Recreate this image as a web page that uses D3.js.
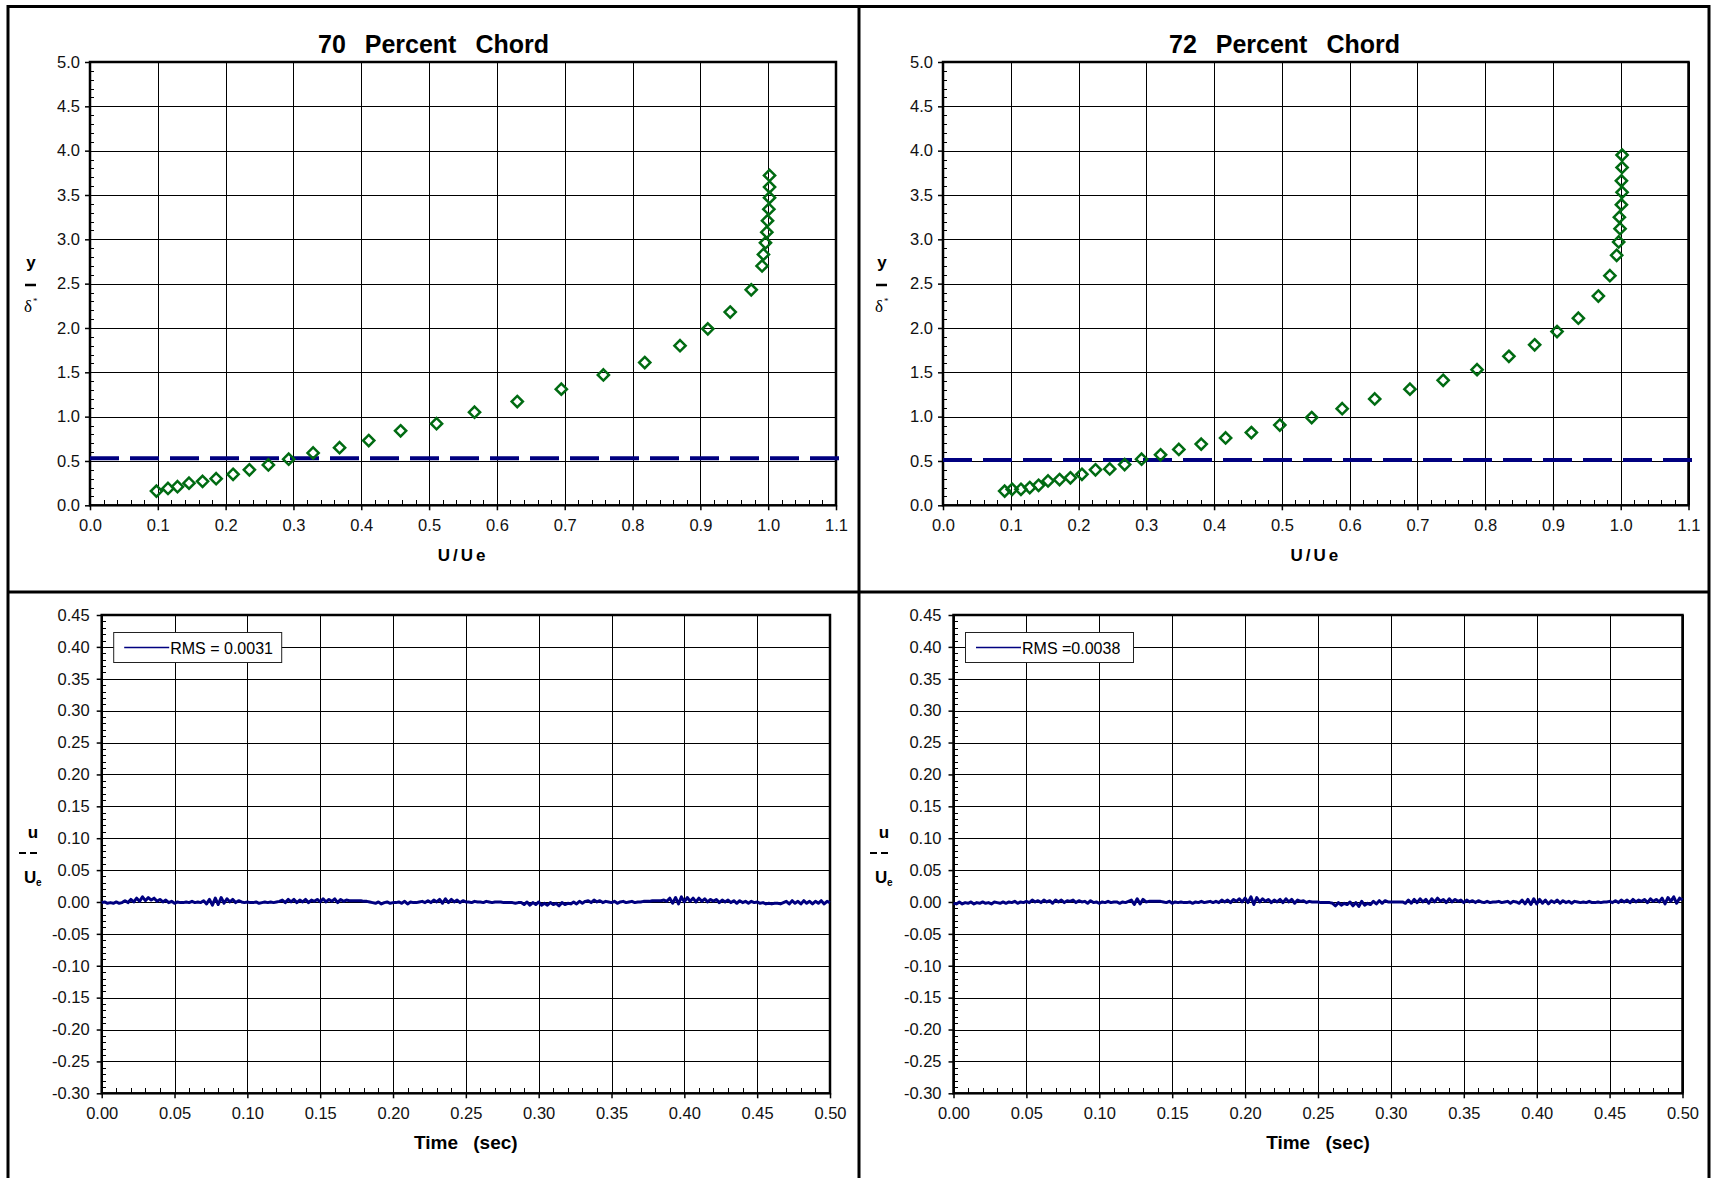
<!DOCTYPE html>
<html>
<head>
<meta charset="utf-8">
<script src="https://d3js.org/d3.v7.min.js"></script>
<style>
  body { margin: 0; background: #fff; font-family: "Liberation Sans", Arial, Helvetica, sans-serif; }
  .grid line { stroke: #000; stroke-width: 1; shape-rendering: crispEdges; }
  .minor line { stroke: #000; stroke-width: 1; shape-rendering: crispEdges; }
  .axis text { font-size: 16.5px; fill: #111; font-family: "Liberation Sans", Arial, sans-serif; }
  .axis line { stroke: #000; stroke-width: 1.5; }
</style>
</head>
<body>
<svg id="chart" width="1711" height="1178"></svg>
<script>
// ---- data ----

// boundary layer profile, 70 percent chord
const uUe70 = [0.098, 0.115, 0.129, 0.146, 0.166, 0.186, 0.211, 0.235, 0.263, 0.293,
  0.329, 0.368, 0.411, 0.458, 0.511, 0.567, 0.630, 0.695, 0.757, 0.818,
  0.870, 0.911, 0.944, 0.975, 0.991, 0.993, 0.996, 0.998, 0.999, 1.001,
  1.002, 1.002, 1.002];
const yDelta70 = [0.16, 0.19, 0.21, 0.25, 0.27, 0.30, 0.35, 0.40, 0.455, 0.52,
  0.59, 0.65, 0.73, 0.84, 0.92, 1.05, 1.17, 1.31, 1.47, 1.61,
  1.80, 1.99, 2.18, 2.43, 2.70, 2.83, 2.96, 3.08, 3.21, 3.34,
  3.47, 3.59, 3.72];

// boundary layer profile, 72 percent chord
const uUe72 = [0.091, 0.102, 0.115, 0.128, 0.141, 0.155, 0.172, 0.188, 0.205, 0.225,
  0.246, 0.268, 0.293, 0.321, 0.348, 0.381, 0.417, 0.455, 0.497, 0.544,
  0.589, 0.637, 0.689, 0.738, 0.788, 0.835, 0.873, 0.906, 0.9375, 0.967,
  0.984, 0.994, 0.997, 0.999, 0.998, 1.001, 1.002, 1.001, 1.002, 1.002];
const yDelta72 = [0.16, 0.18, 0.18, 0.20, 0.226, 0.275, 0.29, 0.31, 0.35, 0.40,
  0.41, 0.46, 0.52, 0.57, 0.63, 0.69, 0.76, 0.82, 0.905, 0.99,
  1.09, 1.20, 1.31, 1.41, 1.53, 1.68, 1.81, 1.96, 2.11, 2.36,
  2.59, 2.82, 2.97, 3.12, 3.25, 3.39, 3.53, 3.66, 3.81, 3.95];

// dashed reference lines (y level, U/Ue extent)
const refLevel70 = 0.53;
const refLevel72 = 0.51;
const refExtent = [0, 1.11];

// velocity fluctuation u/Ue, sampled every dt seconds
const dt = 0.002;
const fluct70 = [
  -0.001, 0.000, -0.002, -0.001, -0.002, 0.000, -0.002, -0.001,
  0.002, -0.001, 0.004, 0.000, 0.006, 0.001, 0.008, 0.002, 0.007, 0.003, 0.006, 0.001, 0.004, 0.000, 0.003,
  -0.001, 0.001, -0.002, 0.000, -0.001, -0.001, 0.000, -0.001, 0.001, -0.001, 0.000, -0.001,
  0.002, -0.003, 0.004, -0.005, 0.006, -0.004, 0.007, -0.002, 0.005, 0.000, 0.004, -0.001, 0.002,
  0.000, -0.001, 0.000, -0.001, -0.001, 0.000, -0.002, -0.001, 0.000, -0.001, 0.000, -0.001, 0.000,
  0.001, 0.003, -0.001, 0.004, 0.000, 0.004, -0.001, 0.003, 0.000, 0.004, -0.001, 0.003, 0.001, 0.004, 0.000, 0.005, 0.000, 0.004, 0.001, 0.005, -0.001, 0.004, 0.001, 0.003, 0.002,
  0.002, 0.002, 0.002, 0.002, 0.001, 0.001, 0.000,
  -0.001, -0.002, 0.000, -0.003, -0.001, 0.000, -0.002, -0.001, -0.001, 0.000, -0.002, 0.001, -0.003, 0.000, -0.001, -0.001, 0.000,
  0.001, -0.001, 0.002, -0.001, 0.003, 0.000, 0.004, -0.002, 0.005, -0.001, 0.004, 0.000, 0.003, -0.001, 0.002, 0.000,
  0.000, -0.001, 0.001, 0.000, 0.000, -0.001, 0.001, 0.000, -0.001, 0.000, 0.000, 0.000, -0.001, -0.001, -0.001, -0.001, -0.002, -0.001,
  -0.001, -0.004, 0.000, -0.005, -0.001, -0.004, 0.000, -0.005, -0.002, -0.005, -0.001, -0.004, -0.002, -0.006, -0.001, -0.004, -0.002, -0.003, 0.000, -0.003, 0.001, -0.002, 0.001,
  0.002, -0.001, 0.003, 0.000, 0.002, -0.001, 0.001, 0.000, -0.001, 0.001, -0.002, 0.000, 0.001, -0.001, 0.000, 0.001, -0.001, 0.000, 0.000, 0.001, 0.001, 0.001, 0.002, 0.002, 0.002, 0.002, 0.003,
  0.001, 0.006, -0.002, 0.007, -0.003, 0.008, 0.000, 0.007, 0.001, 0.006, 0.000, 0.006, 0.001, 0.005, 0.000, 0.004, 0.001, 0.004, -0.001, 0.003, 0.000, 0.003, -0.001,
  0.002, -0.002, 0.002, -0.001, 0.001, -0.002, 0.001, -0.001, 0.000, -0.002, -0.001, -0.003,
  -0.002, -0.003, -0.002, -0.002, -0.003, -0.001,
  0.001, -0.003, 0.002, -0.002, 0.001, -0.003, 0.002, -0.002, 0.001, -0.003, 0.001, -0.002, 0.002, -0.003, 0.001, -0.001
];
const fluct72 = [
  -0.002, -0.003, 0.000, -0.003, -0.001, -0.002, 0.000, -0.003, -0.001, -0.002, 0.000, -0.002, -0.001, -0.003, 0.000, -0.001, -0.002, 0.000, -0.002, 0.000, -0.001, 0.001, -0.002, 0.000, -0.001,
  0.001, -0.001, 0.003, 0.000, 0.002, -0.001, 0.003, 0.000, 0.002, -0.002, 0.003, 0.000, 0.003, -0.001, 0.002, 0.001, 0.003, -0.001, 0.002, 0.000, 0.001, -0.002, 0.002, -0.001, 0.000, -0.002,
  0.000, -0.001, 0.001, -0.001, 0.000, 0.000, -0.002, 0.000, -0.001, 0.001,
  0.003, -0.004, 0.005, -0.003, 0.004, 0.000,
  0.001, 0.001, 0.001, 0.001, 0.001, 0.000,
  -0.001, 0.001, -0.002, 0.000, -0.001, 0.000, -0.001, -0.001, 0.000, -0.002, 0.000, -0.001, 0.001, -0.001, 0.000, 0.001, -0.001,
  0.001, -0.001, 0.003, 0.000, 0.003, -0.001, 0.004, 0.001, 0.005, 0.000, 0.006, -0.001, 0.008, -0.004, 0.007, 0.000, 0.005, 0.001, 0.004, -0.001, 0.003, 0.000,
  0.004, -0.001, 0.005, 0.000, 0.004, -0.002, 0.003, 0.001, 0.002, -0.001, 0.001, 0.000, 0.000,
  0.000, -0.001, -0.001, -0.001, -0.001,
  -0.002, -0.006, -0.001, -0.005, -0.002, -0.004, 0.000, -0.006, -0.001, -0.007, 0.001, -0.005, -0.002, -0.004, 0.001, -0.003, 0.002, -0.002, 0.002, 0.000,
  0.000, 0.000, 0.000, 0.000, 0.000,
  -0.002, 0.003, -0.002, 0.004, -0.001, 0.005, 0.000, 0.004, -0.002, 0.005, 0.000, 0.006, 0.001, 0.004, -0.001, 0.005, 0.000, 0.004, 0.001, 0.003, -0.001, 0.003, 0.000, 0.002, -0.001, 0.002,
  0.000, -0.001, 0.001, -0.001, 0.000, 0.000, 0.001, -0.001, 0.000, 0.001, -0.002, 0.001, 0.000,
  -0.002, 0.003, -0.003, 0.004, -0.004, 0.005, -0.003, 0.004, -0.002, 0.003, -0.003, 0.002, -0.001, 0.003, -0.002, 0.002, -0.001, 0.001, -0.002, 0.001, 0.000,
  -0.001, 0.000, -0.001, 0.001, -0.001, -0.001, 0.000, -0.001, 0.000, 0.000,
  0.001, -0.001, 0.002, -0.001, 0.003, 0.000, 0.003, -0.001, 0.004, 0.000, 0.003, 0.001, 0.004, -0.001, 0.005, 0.001, 0.004, 0.000, 0.006, -0.003, 0.007, 0.001, 0.008, -0.002, 0.006, 0.003
];

// ticks
const profileXTicks = [0.0, 0.1, 0.2, 0.3, 0.4, 0.5, 0.6, 0.7, 0.8, 0.9, 1.0, 1.1];
const profileYTicks = [0.0, 0.5, 1.0, 1.5, 2.0, 2.5, 3.0, 3.5, 4.0, 4.5, 5.0];
const signalXTicks = [0.00, 0.05, 0.10, 0.15, 0.20, 0.25, 0.30, 0.35, 0.40, 0.45, 0.50];
const signalYTicks = [-0.30, -0.25, -0.20, -0.15, -0.10, -0.05, 0.00, 0.05, 0.10, 0.15, 0.20, 0.25, 0.30, 0.35, 0.40, 0.45];

const titles = ["70 Percent Chord", "72 Percent Chord"];
const rmsLabels = ["RMS = 0.0031", "RMS =0.0038"];

// ---- drawing ----
const svg = d3.select("#chart");
const NAVY = "#000080", GREEN = "#006b12";

// outer table frame
const frame = svg.append("g").attr("stroke", "#000").attr("stroke-width", 3);
frame.append("line").attr("x1", 8).attr("x2", 8).attr("y1", 5).attr("y2", 1178);
frame.append("line").attr("x1", 859).attr("x2", 859).attr("y1", 5).attr("y2", 1178);
frame.append("line").attr("x1", 1709).attr("x2", 1709).attr("y1", 5).attr("y2", 1178);
frame.append("line").attr("x1", 7).attr("x2", 1710).attr("y1", 6.5).attr("y2", 6.5);
frame.append("line").attr("x1", 7).attr("x2", 1710).attr("y1", 592).attr("y2", 592);

const px = v => Math.round(v) + 0.5;

function gridAndFrame(g, x, y, xt, yt, xMinor, yMinor) {
  const [x0, x1] = x.range(), [y0, y1] = y.range();
  const grid = g.append("g").attr("class", "grid");
  grid.selectAll(".v").data(xt).join("line").attr("class", "v")
    .attr("x1", d => px(x(d))).attr("x2", d => px(x(d))).attr("y1", y1).attr("y2", y0);
  grid.selectAll(".h").data(yt).join("line").attr("class", "h")
    .attr("x1", x0).attr("x2", x1).attr("y1", d => px(y(d))).attr("y2", d => px(y(d)));

  const minor = g.append("g").attr("class", "minor");
  minor.selectAll(".mx").data(xMinor).join("line").attr("class", "mx")
    .attr("x1", d => px(x(d))).attr("x2", d => px(x(d))).attr("y1", y0).attr("y2", y0 - 5);
  minor.selectAll(".my").data(yMinor).join("line").attr("class", "my")
    .attr("x1", x0).attr("x2", x0 + 4).attr("y1", d => px(y(d))).attr("y2", d => px(y(d)));

  g.append("rect").attr("x", x0).attr("y", y1).attr("width", x1 - x0).attr("height", y0 - y1)
    .attr("fill", "none").attr("stroke", "#000").attr("stroke-width", 2.5);
}

function axes(g, x, y, xt, yt, fx, fy, xPad, yPad) {
  const [y0] = y.range(), [x0] = x.range();
  g.append("g").attr("class", "axis").attr("transform", `translate(0,${y0})`)
    .call(d3.axisBottom(x).tickValues(xt).tickFormat(fx).tickSizeInner(5).tickSizeOuter(0).tickPadding(xPad))
    .call(a => a.select(".domain").remove());
  g.append("g").attr("class", "axis").attr("transform", `translate(${x0},0)`)
    .call(d3.axisLeft(y).tickValues(yt).tickFormat(fy).tickSizeInner(5).tickSizeOuter(0).tickPadding(yPad))
    .call(a => a.select(".domain").remove());
}

function drawProfile(left, plotX0, plotX1, title, uData, yData, refLevel) {
  const g = svg.append("g");
  const x = d3.scaleLinear().domain([0, 1.1]).range([plotX0, plotX1]);
  const y = d3.scaleLinear().domain([0, 5]).range([505.3, 62]);

  gridAndFrame(g, x, y, profileXTicks, profileYTicks,
    d3.range(0, 1.1, 0.02), d3.range(0, 5, 0.1));
  axes(g, x, y, profileXTicks, profileYTicks, d => d.toFixed(1), d => d.toFixed(1), 9, 5);

  // dashed reference line
  g.append("line")
    .attr("x1", x(refExtent[0])).attr("x2", x(refExtent[1]))
    .attr("y1", y(refLevel)).attr("y2", y(refLevel))
    .attr("stroke", NAVY).attr("stroke-width", 4).attr("stroke-dasharray", "29 11");

  // hollow diamonds
  const pts = uData.map((u, i) => [u, yData[i]]);
  g.selectAll(".pt").data(pts).join("path").attr("class", "pt")
    .attr("d", d3.symbol(d3.symbolDiamond2, 80))
    .attr("transform", d => `translate(${x(d[0])},${y(d[1])})`)
    .attr("fill", "none").attr("stroke", GREEN).attr("stroke-width", 2.5);

  // title
  g.append("text").attr("x", left + 425.5).attr("y", 53)
    .attr("text-anchor", "middle").attr("font-size", 25).attr("font-weight", "bold")
    .attr("word-spacing", 12).text(title);

  // x title
  g.append("text").attr("x", (plotX0 + plotX1) / 2).attr("y", 561)
    .attr("text-anchor", "middle").attr("font-size", 17).attr("font-weight", "bold")
    .attr("letter-spacing", 3).text("U/Ue");

  // y title: y over delta*
  const lx = left + 23;
  g.append("text").attr("x", lx).attr("y", 268).attr("text-anchor", "middle")
    .attr("font-size", 17).attr("font-weight", "bold").text("y");
  g.append("line").attr("x1", lx - 6).attr("x2", lx + 5).attr("y1", 285).attr("y2", 285)
    .attr("stroke", "#000").attr("stroke-width", 2.5);
  g.append("text").attr("x", lx - 7).attr("y", 312)
    .attr("font-family", "'Liberation Serif', 'DejaVu Serif', serif").attr("font-size", 17).text("δ");
  g.append("text").attr("x", lx + 2).attr("y", 304)
    .attr("font-family", "'Liberation Serif', serif").attr("font-size", 9).text("*");
}

function drawSignal(left, plotX0, plotX1, data, rms) {
  const g = svg.append("g");
  const x = d3.scaleLinear().domain([0, 0.5]).range([plotX0, plotX1]);
  const y = d3.scaleLinear().domain([-0.30, 0.45]).range([1093.3, 615]);

  gridAndFrame(g, x, y, signalXTicks, signalYTicks,
    d3.range(0, 0.5, 0.01), d3.range(-0.30, 0.45, 0.01));
  axes(g, x, y, signalXTicks, signalYTicks, d => d.toFixed(2), d => d.toFixed(2), 9, 7);

  const line = d3.line().x((d, i) => x(i * dt)).y(d => y(d));
  g.append("path").datum(data).attr("d", line)
    .attr("fill", "none").attr("stroke", NAVY).attr("stroke-width", 3)
    .attr("stroke-linejoin", "round");

  // legend
  const lg = g.append("g").attr("transform", `translate(${plotX0 + 11.5},632)`);
  lg.append("rect").attr("x", 0.5).attr("y", 0.5).attr("width", 168).attr("height", 30)
    .attr("fill", "#fff").attr("stroke", "#222").attr("stroke-width", 1);
  lg.append("line").attr("x1", 11).attr("x2", 56).attr("y1", 15.5).attr("y2", 15.5)
    .attr("stroke", NAVY).attr("stroke-width", 1.5);
  lg.append("text").attr("x", 57).attr("y", 21.5).attr("font-size", 16).text(rms);

  // x title
  g.append("text").attr("x", (plotX0 + plotX1) / 2).attr("y", 1149)
    .attr("text-anchor", "middle").attr("font-size", 19).attr("font-weight", "bold")
    .attr("word-spacing", 10).text("Time (sec)");

  // y title: u over Ue
  const lx = left + 25;
  g.append("text").attr("x", lx).attr("y", 838).attr("text-anchor", "middle")
    .attr("font-size", 17).attr("font-weight", "bold").text("u");
  g.append("line").attr("x1", lx - 14).attr("x2", lx - 7).attr("y1", 853).attr("y2", 853)
    .attr("stroke", "#000").attr("stroke-width", 2);
  g.append("line").attr("x1", lx - 3).attr("x2", lx + 4).attr("y1", 853).attr("y2", 853)
    .attr("stroke", "#000").attr("stroke-width", 2);
  g.append("text").attr("x", lx - 9).attr("y", 883)
    .attr("font-size", 17).attr("font-weight", "bold").text("U");
  g.append("text").attr("x", lx + 3).attr("y", 886)
    .attr("font-size", 10).attr("font-weight", "bold").text("e");
}

drawProfile(8, 90, 836, titles[0], uUe70, yDelta70, refLevel70);
drawProfile(859, 943, 1688.5, titles[1], uUe72, yDelta72, refLevel72);
drawSignal(8, 101.7, 830, fluct70, rmsLabels[0]);
drawSignal(859, 953.5, 1682.5, fluct72, rmsLabels[1]);
</script>
</body>
</html>
